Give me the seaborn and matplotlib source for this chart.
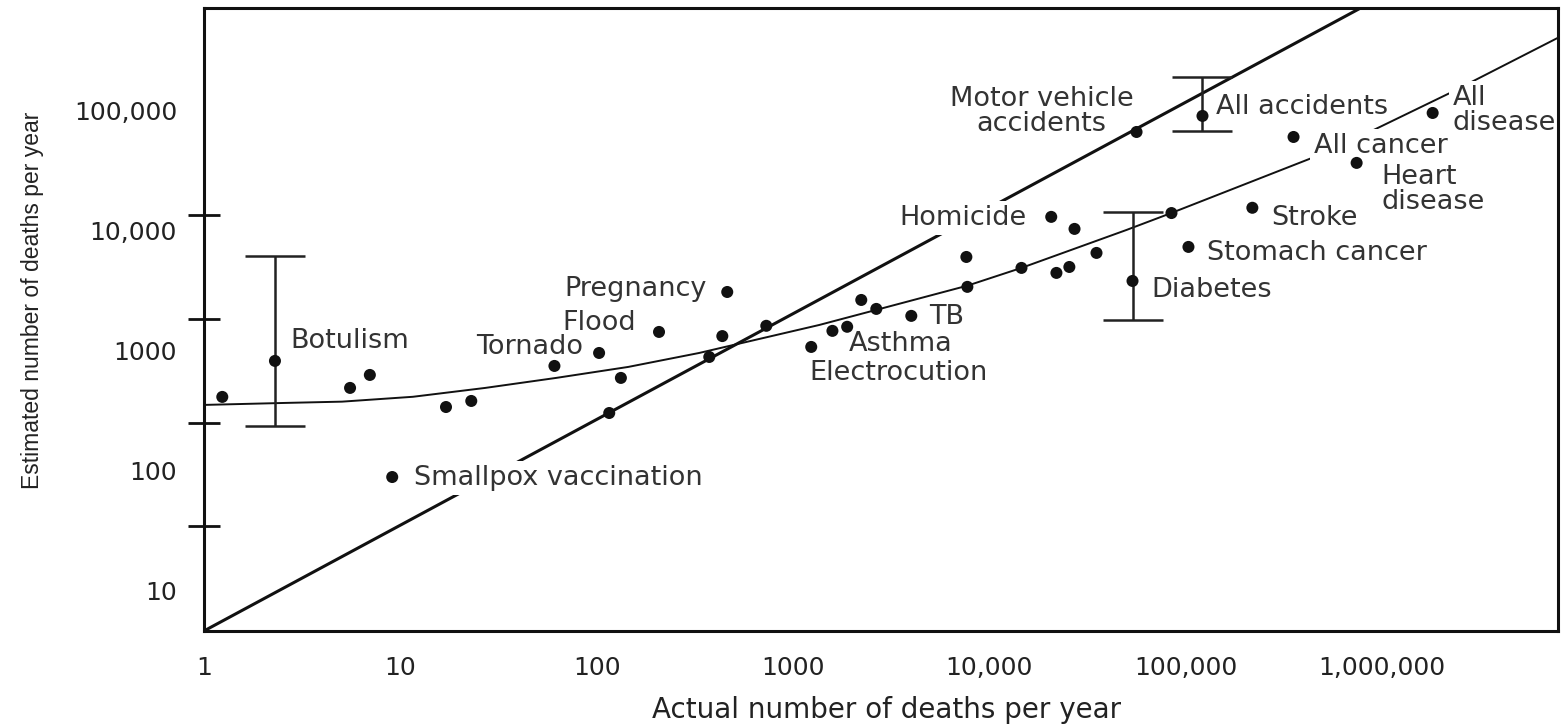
import numpy as np
import pandas as pd
import seaborn as sns
import matplotlib.pyplot as plt
from matplotlib.ticker import FixedLocator, FixedFormatter, NullFormatter

# one dot per cause of death: actual vs. estimated deaths per year
actual = [1.24, 2.3, 5.55, 7.0, 9.1, 17.1, 23.0, 61, 103, 133, 116, 208, 463, 437, 375, 732,
          1240, 1590, 1890, 2230, 2660, 4010, 7650, 7740, 14600, 22000, 25600, 35200,
          20700, 27200, 53700, 56300, 122000, 84800, 103500, 219000, 355000, 744000, 1815000]
estimated = [414, 826, 492, 631, 89, 341, 383, 750, 962, 596, 304, 1440, 3100, 1330, 891, 1620,
             1080, 1470, 1590, 2660, 2240, 1960, 6070, 3420, 4920, 4470, 5010, 6560,
             13100, 10400, 3830, 66800, 90900, 14100, 7360, 15600, 60700, 36900, 96200]
cause = ['', 'Botulism', '', '', 'Smallpox vaccination', '', '', '', 'Tornado', '', '', 'Flood',
         'Pregnancy', '', '', '', 'Electrocution', '', 'Asthma', '', '', 'TB', '', '', '', '', '', '',
         'Homicide', '', 'Diabetes', 'Motor vehicle\naccidents', 'All accidents', '', 'Stomach cancer',
         'Stroke', 'All cancer', 'Heart\ndisease', 'All\ndisease']

# range bars (Botulism, All accidents, Diabetes)
bar_actual = [2.3, 122000, 53700]
bar_mid = [826, 90900, 3830]
bar_low = [237, 68100, 1813]
bar_high = [6190, 192000, 14400]

# straight line (equal estimate) and curved best fit
diag_actual = [1, 780000]
diag_estimated = [4.64, 721000]
fit_actual = [1, 2.62, 5.05, 11.6, 27.1, 62.2, 145, 333, 1364, 2661, 7744, 14590, 50030, 84850,
              482000, 918000, 2220000, 8050000]
fit_estimated = [355, 369, 378, 415, 492, 596, 736, 962, 1647, 2200, 3500, 4920, 10190, 14130,
                 42990, 70000, 141000, 414000]

x_ticks = [1, 10, 100, 1000, 10000, 100000, 1000000]
x_tick_labels = ['1', '10', '100', '1000', '10,000', '100,000', '1,000,000']
y_ticks = [10, 100, 1000, 10000, 100000]
y_tick_labels = ['10', '100', '1000', '10,000', '100,000']
y_dash_ticks = [100000, 13600, 1850, 251, 34.8]

# label placement: offset in points from the dot, alignment
label_pos = {
    'Botulism': (10.8, 14.4, 'left'),
    'Smallpox vaccination': (15.8, -0.7, 'left'),
    'Tornado': (-11.5, 4.3, 'right'),
    'Flood': (-16.6, 6.5, 'right'),
    'Pregnancy': (-15, 2, 'right'),
    'Electrocution': (-1.4, -18.7, 'left'),
    'Asthma': (1.4, -12.2, 'left'),
    'TB': (13, -0.7, 'left'),
    'Homicide': (-18, -0.7, 'right'),
    'Diabetes': (13.7, -6.5, 'left'),
    'Motor vehicle\naccidents': (-68.4, 14.4, 'center'),
    'All accidents': (10, 6.5, 'left'),
    'Stomach cancer': (13.7, -4.3, 'left'),
    'Stroke': (13.7, -7.2, 'left'),
    'All cancer': (15, -6.5, 'left'),
    'Heart\ndisease': (18, -19.4, 'left'),
    'All\ndisease': (14.4, 1.8, 'left'),
}
knockout = ['Smallpox vaccination', 'Homicide', 'All cancer', 'All\ndisease']

sns.set_theme(style='white')
plt.rcParams['font.family'] = ['DejaVu Sans']

df = pd.DataFrame({'actual': actual, 'estimated': estimated, 'cause': cause})

fig = plt.figure(figsize=(15.64, 7.27), dpi=100)
ax = fig.add_axes([0.1304, 0.1321, 0.8658, 0.8569])
ax.set(xscale='log', yscale='log')

sns.lineplot(x=diag_actual, y=diag_estimated, color='#111111', lw=2.2, ax=ax, zorder=2)
sns.lineplot(x=fit_actual, y=fit_estimated, color='#111111', lw=1.4, sort=False, ax=ax, zorder=2)
ax.errorbar(bar_actual, bar_mid,
            yerr=[np.subtract(bar_mid, bar_low), np.subtract(bar_high, bar_mid)],
            fmt='none', ecolor='#222222', elinewidth=1.8, capsize=21.5, capthick=1.8, zorder=3)
sns.scatterplot(data=df, x='actual', y='estimated', color='#111111', s=75,
                edgecolor='none', ax=ax, zorder=5)

for _, row in df[df['cause'] != ''].iterrows():
    dx, dy, ha = label_pos[row['cause']]
    box = dict(boxstyle='square,pad=0.15', fc='white', ec='none') if row['cause'] in knockout else None
    ax.annotate(row['cause'], (row['actual'], row['estimated']), xytext=(dx, dy),
                textcoords='offset points', ha=ha, va='center',
                multialignment='center' if ha == 'center' else 'left',
                fontsize=19.5, color='#333333', linespacing=0.95, bbox=box, zorder=2.4)

ax.set_xlim(1, 7.9e6)
ax.set_ylim(4.64, 721000)

ax.xaxis.set_major_locator(FixedLocator(x_ticks))
ax.xaxis.set_major_formatter(FixedFormatter(x_tick_labels))
ax.xaxis.set_minor_locator(FixedLocator(x_ticks[1:]))
ax.xaxis.set_minor_formatter(NullFormatter())
ax.yaxis.set_major_locator(FixedLocator(y_ticks))
ax.yaxis.set_major_formatter(FixedFormatter(y_tick_labels))
ax.yaxis.set_minor_locator(FixedLocator(y_dash_ticks))
ax.yaxis.set_minor_formatter(NullFormatter())

ax.tick_params(axis='x', which='major', bottom=True, length=0, pad=18, labelsize=18, labelcolor='#222222')
ax.tick_params(axis='x', which='minor', bottom=True, direction='inout', length=15, width=2, color='#111111')
ax.tick_params(axis='y', which='major', left=True, length=0, pad=19.4, labelsize=18, labelcolor='#222222')
ax.tick_params(axis='y', which='minor', left=True, direction='inout', length=23, width=2, color='#111111')

for side in ['left', 'right', 'top', 'bottom']:
    ax.spines[side].set_visible(True)
    ax.spines[side].set_color('#111111')
    ax.spines[side].set_linewidth(2.2)
    ax.spines[side].set_zorder(3)

ax.set_xlabel('Actual number of deaths per year', fontsize=20, color='#222222')
ax.xaxis.set_label_coords(0.504, -0.105)
ax.set_ylabel('Estimated number of deaths per year', fontsize=16.5, color='#222222',
              family=['Liberation Sans', 'DejaVu Sans'])
ax.yaxis.set_label_coords(-0.118, 0.531)

fig.savefig('out.png', dpi=100)
